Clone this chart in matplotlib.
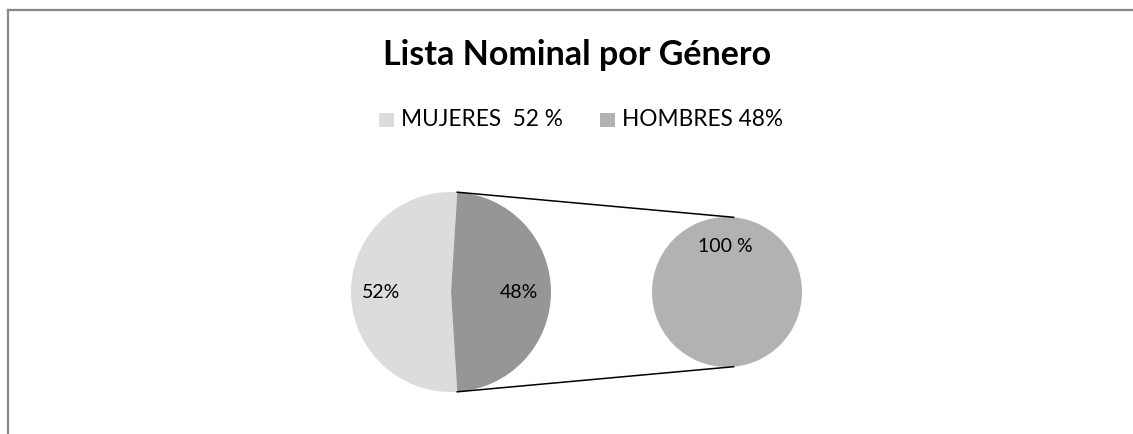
import numpy as np
import matplotlib
matplotlib.use('Agg')
import matplotlib.pyplot as plt
from matplotlib.patches import Rectangle

# datos del grafico
titulo = 'Lista Nominal por Género'
etiquetas_leyenda = ['MUJERES  52 %', 'HOMBRES 48%']
mujeres = 52
hombres = 48
secundario = [100]
etiquetas_pie = ['52%', '48%']
etiqueta_sec = '100 %'

gris_claro = '#dcdcdc'
gris_oscuro = '#969696'
gris_medio = '#b2b2b2'

plt.rcParams['font.family'] = ['Lato', 'DejaVu Sans']

W, H = 1133, 434
fig = plt.figure(figsize=(W / 100, H / 100), dpi=100)
ax = fig.add_axes([0, 0, 1, 1])

# pastel principal (la porcion de hombres a la derecha)
c1 = (451, H - 292)
r1 = 100
ax.pie([mujeres, hombres], colors=[gris_claro, gris_oscuro],
       startangle=hombres / 100 * 180, center=c1, radius=r1, frame=True,
       wedgeprops=dict(linewidth=0))

# pastel secundario
c2 = (727, H - 292)
r2 = 75
ax.pie(secundario, colors=[gris_medio], center=c2, radius=r2, frame=True,
       wedgeprops=dict(linewidth=0))

# lineas de union
ang = np.deg2rad(hombres / 100 * 180)
ang2 = np.deg2rad(85)
for s in [1, -1]:
    ax.plot([c1[0] + r1 * np.cos(ang), c2[0] + r2 * np.cos(ang2)],
            [c1[1] + s * r1 * np.sin(ang), c2[1] + s * r2 * np.sin(ang2)],
            color='black', lw=1.1)

# etiquetas de datos
ax.text(381, H - 292, etiquetas_pie[0], ha='center', va='center', fontsize=14)
ax.text(519, H - 292, etiquetas_pie[1], ha='center', va='center', fontsize=14)
ax.text(725, H - 246, etiqueta_sec, ha='center', va='center', fontsize=14)

# titulo
ax.text(577, H - 55, titulo, ha='center', va='center', fontsize=24.5, fontweight='bold')

# leyenda
colores_leyenda = [gris_claro, gris_medio]
pos_leyenda = [379, 600]
for x0, col, txt in zip(pos_leyenda, colores_leyenda, etiquetas_leyenda):
    ax.add_patch(Rectangle((x0, H - 127), 15, 14, color=col, lw=0))
    ax.text(x0 + 22, H - 120, txt, ha='left', va='center', fontsize=16.3)

# borde del area del grafico
ax.plot([8, 8], [-5, H - 10], color='#888888', lw=1.6, clip_on=False)
ax.plot([8, W + 5], [H - 10, H - 10], color='#888888', lw=1.6, clip_on=False)

ax.set_xlim(0, W)
ax.set_ylim(0, H)
ax.set_aspect('auto')
ax.axis('off')

plt.savefig('out.png', dpi=100)
